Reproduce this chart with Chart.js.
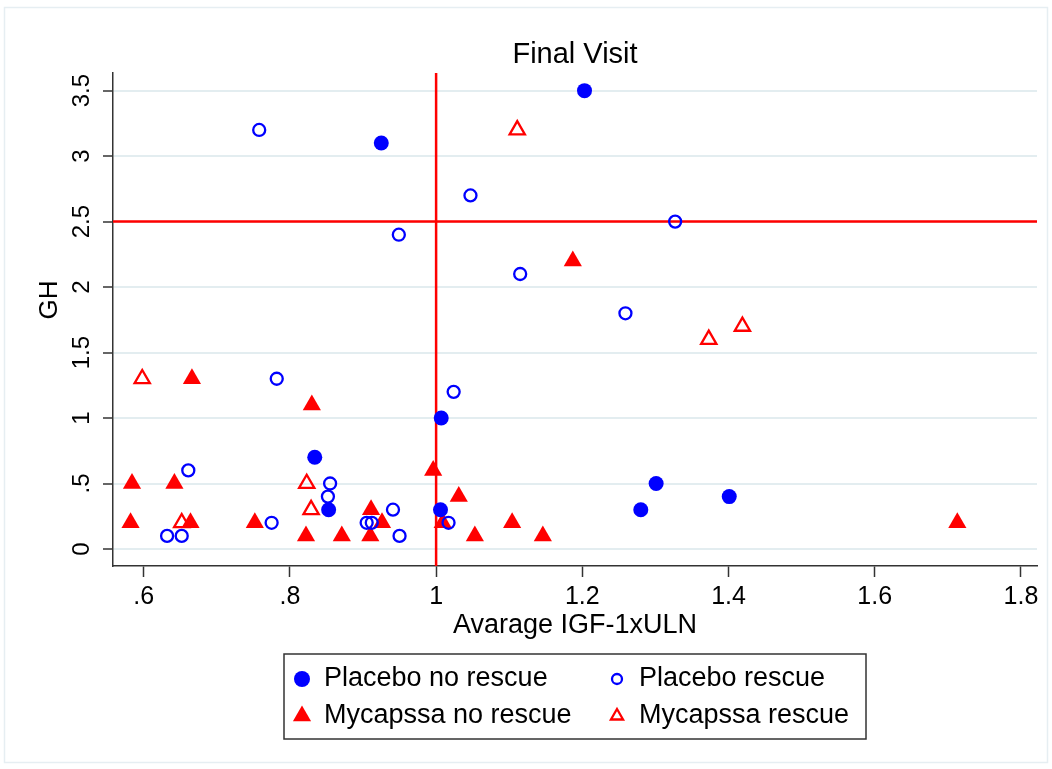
<!DOCTYPE html>
<html>
<head>
<meta charset="utf-8">
<script src="https://cdn.jsdelivr.net/npm/chart.js@4.4.1/dist/chart.umd.min.js"></script>
<style>
    body { margin: 0; background: #fff; }
    #wrap { width: 1052px; height: 769px; position: relative; }
</style>
</head>
<body>
<div id="wrap"><canvas id="chart" width="1052" height="769"></canvas></div>
<script>
const xTicks = [0.6, 0.8, 1, 1.2, 1.4, 1.6, 1.8];
const yTicks = [0, 0.5, 1, 1.5, 2, 2.5, 3, 3.5];
const xRefLine = 1;
const yRefLine = 2.5;

const placeboNoRescueX = [1.203, 0.925, 1.007, 0.834, 0.853, 1.006, 1.301, 1.280, 1.401];
const placeboNoRescueY = [3.5, 3.1, 1.0, 0.7, 0.3, 0.3, 0.5, 0.3, 0.4];

const placeboRescueX = [0.758, 1.047, 0.949, 1.327, 1.115, 1.259, 0.782, 1.024, 0.661, 0.855,
    0.852, 0.941, 0.905, 0.912, 0.775, 0.632, 0.652, 0.950, 1.017];
const placeboRescueY = [3.2, 2.7, 2.4, 2.5, 2.1, 1.8, 1.3, 1.2, 0.6, 0.5,
    0.4, 0.3, 0.2, 0.2, 0.2, 0.1, 0.1, 0.1, 0.2];

const mycapssaNoRescueX = [1.187, 0.666, 0.830, 0.584, 0.642, 0.582, 0.664, 0.752, 0.822, 0.871,
    0.910, 0.911, 0.926, 0.996, 1.009, 1.031, 1.053, 1.104, 1.146, 1.713];
const mycapssaNoRescueY = [2.2, 1.3, 1.1, 0.5, 0.5, 0.2, 0.2, 0.2, 0.1, 0.1,
    0.1, 0.3, 0.2, 0.6, 0.2, 0.4, 0.1, 0.2, 0.1, 0.2];

const mycapssaRescueX = [1.111, 1.373, 1.419, 0.598, 0.823, 0.829, 0.652];
const mycapssaRescueY = [3.2, 1.6, 1.7, 1.3, 0.5, 0.3, 0.2];

const FONT = '"Liberation Sans", Arial, sans-serif';

function toPoints(xs, ys) {
    return xs.map((x, i) => ({ x: x, y: ys[i] }));
}

function fmt(v) {
    const s = String(+v.toFixed(2));
    return s.startsWith('0.') ? s.slice(1) : s;
}

const datasets = [
    {
        label: 'Placebo no rescue',
        data: toPoints(placeboNoRescueX, placeboNoRescueY),
        pointStyle: 'circle', pointRadius: 7.5,
        backgroundColor: '#0000ff', borderColor: '#0000ff', borderWidth: 0,
        legendRadius: 8
    },
    {
        label: 'Placebo rescue',
        data: toPoints(placeboRescueX, placeboRescueY),
        pointStyle: 'circle', pointRadius: 6,
        backgroundColor: 'rgba(0,0,0,0)', borderColor: '#0000ff', borderWidth: 2.3,
        legendRadius: 5
    },
    {
        label: 'Mycapssa no rescue',
        data: toPoints(mycapssaNoRescueX, mycapssaNoRescueY),
        pointStyle: 'triangle', pointRadius: 10.5,
        backgroundColor: '#ff0000', borderColor: '#ff0000', borderWidth: 0,
        legendRadius: 10.5
    },
    {
        label: 'Mycapssa rescue',
        data: toPoints(mycapssaRescueX, mycapssaRescueY),
        pointStyle: 'triangle', pointRadius: 8.8,
        backgroundColor: 'rgba(0,0,0,0)', borderColor: '#ff0000', borderWidth: 2.3,
        legendRadius: 7
    }
];

const decorations = {
    id: 'decorations',
    beforeDraw(chart) {
        const ctx = chart.ctx;
        ctx.save();
        ctx.fillStyle = '#fff';
        ctx.fillRect(0, 0, chart.width, chart.height);
        ctx.strokeStyle = '#e6eef2';
        ctx.lineWidth = 1.5;
        ctx.strokeRect(4.5, 7.5, 1043, 755);
        ctx.restore();
    },
    beforeDatasetsDraw(chart) {
        // red reference lines, under the markers
        const { ctx, chartArea: a, scales: { x, y } } = chart;
        ctx.save();
        ctx.strokeStyle = '#ff0000';
        ctx.lineWidth = 2.5;
        ctx.beginPath();
        const px = x.getPixelForValue(xRefLine);
        ctx.moveTo(px, a.top);
        ctx.lineTo(px, a.bottom);
        const py = y.getPixelForValue(yRefLine);
        ctx.moveTo(a.left, py);
        ctx.lineTo(a.right, py);
        ctx.stroke();
        ctx.restore();
    },
    afterDraw(chart) {
        const { ctx, chartArea: a, scales: { y } } = chart;
        ctx.save();
        ctx.fillStyle = '#000';

        // title
        ctx.font = '29px ' + FONT;
        ctx.textAlign = 'center';
        ctx.textBaseline = 'alphabetic';
        ctx.fillText('Final Visit', (a.left + a.right) / 2, 63);

        // x title
        ctx.font = '27px ' + FONT;
        ctx.fillText('Avarage IGF-1xULN', 575, 633);

        // y tick labels, rotated
        ctx.font = '24px ' + FONT;
        ctx.textBaseline = 'middle';
        yTicks.forEach(v => {
            ctx.save();
            ctx.translate(82, y.getPixelForValue(v));
            ctx.rotate(-Math.PI / 2);
            ctx.fillText(fmt(v), 0, 0);
            ctx.restore();
        });

        // y title
        ctx.save();
        ctx.font = '26px ' + FONT;
        ctx.translate(50, 300);
        ctx.rotate(-Math.PI / 2);
        ctx.fillText('GH', 0, 0);
        ctx.restore();

        // legend
        ctx.strokeStyle = '#333';
        ctx.lineWidth = 1.5;
        ctx.strokeRect(284, 654, 582, 85);
        const cols = [302, 617];
        const rows = [679, 716];
        ctx.font = '27px ' + FONT;
        ctx.textAlign = 'left';
        datasets.forEach((ds, i) => {
            const mx = cols[i % 2];
            const my = rows[Math.floor(i / 2)];
            ctx.fillStyle = ds.backgroundColor;
            ctx.strokeStyle = ds.borderColor;
            ctx.lineWidth = ds.borderWidth;
            Chart.helpers.drawPoint(ctx, {
                pointStyle: ds.pointStyle,
                radius: ds.legendRadius,
                borderWidth: ds.borderWidth,
                rotation: 0
            }, mx, my);
            ctx.fillStyle = '#000';
            ctx.fillText(ds.label, mx + 22, my);
        });
        ctx.restore();
    }
};

new Chart(document.getElementById('chart'), {
    type: 'scatter',
    data: { datasets: datasets },
    options: {
        responsive: false,
        animation: false,
        events: [],
        layout: { padding: { top: 73, right: 15, left: 0, bottom: 0 } },
        plugins: {
            legend: { display: false },
            title: { display: false },
            tooltip: { enabled: false }
        },
        scales: {
            x: {
                type: 'linear',
                min: 0.558,
                max: 1.822,
                afterBuildTicks: s => { s.ticks = xTicks.map(v => ({ value: v })); },
                afterFit: s => { s.height = 203; },
                ticks: {
                    callback: v => fmt(v),
                    font: { family: FONT, size: 25 },
                    color: '#000',
                    padding: 5,
                    maxRotation: 0,
                    autoSkip: false
                },
                grid: {
                    drawOnChartArea: false,
                    tickLength: 11,
                    tickColor: '#333',
                    tickWidth: 1.5
                },
                border: { color: '#333', width: 1.5 }
            },
            y: {
                type: 'linear',
                min: -0.13,
                max: 3.635,
                afterBuildTicks: s => { s.ticks = yTicks.map(v => ({ value: v })); },
                afterFit: s => { s.width = 113; },
                ticks: { display: false },
                grid: {
                    color: '#e3edf0',
                    lineWidth: 2,
                    tickLength: 10,
                    tickColor: '#333',
                    tickWidth: 1.5
                },
                border: { color: '#333', width: 1.5 }
            }
        }
    },
    plugins: [decorations]
});
</script>
</body>
</html>
